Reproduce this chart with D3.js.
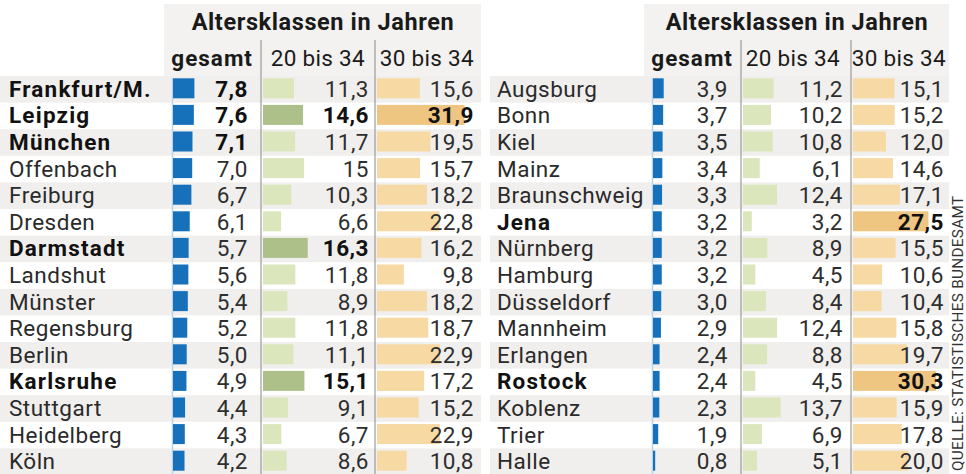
<!DOCTYPE html>
<html>
<head>
<meta charset="utf-8">
<script src="https://cdn.jsdelivr.net/npm/d3@7"></script>
<style>
  body { margin: 0; background: #fff; }
  svg text { font-family: Roboto, sans-serif; }
</style>
</head>
<body>
<div id="chart"></div>
<script>
// left table
const leftCities = ["Frankfurt/M.", "Leipzig", "München", "Offenbach", "Freiburg", "Dresden", "Darmstadt", "Landshut", "Münster", "Regensburg", "Berlin", "Karlsruhe", "Stuttgart", "Heidelberg", "Köln"];
const leftGesamt = [7.8, 7.6, 7.1, 7.0, 6.7, 6.1, 5.7, 5.6, 5.4, 5.2, 5.0, 4.9, 4.4, 4.3, 4.2];
const left2034 = [11.3, 14.6, 11.7, 15, 10.3, 6.6, 16.3, 11.8, 8.9, 11.8, 11.1, 15.1, 9.1, 6.7, 8.6];
const left3034 = [15.6, 31.9, 19.5, 15.7, 18.2, 22.8, 16.2, 9.8, 18.2, 18.7, 22.9, 17.2, 15.2, 22.9, 10.8];

// right table
const rightCities = ["Augsburg", "Bonn", "Kiel", "Mainz", "Braunschweig", "Jena", "Nürnberg", "Hamburg", "Düsseldorf", "Mannheim", "Erlangen", "Rostock", "Koblenz", "Trier", "Halle"];
const rightGesamt = [3.9, 3.7, 3.5, 3.4, 3.3, 3.2, 3.2, 3.2, 3.0, 2.9, 2.4, 2.4, 2.3, 1.9, 0.8];
const right2034 = [11.2, 10.2, 10.8, 6.1, 12.4, 3.2, 8.9, 4.5, 8.4, 12.4, 8.8, 4.5, 13.7, 6.9, 5.1];
const right3034 = [15.1, 15.2, 12.0, 14.6, 17.1, 27.5, 15.5, 10.6, 10.4, 15.8, 19.7, 30.3, 15.9, 17.8, 20.0];

// highlighted (bold) entries per column
const boldGesamt = ["Frankfurt/M.", "Leipzig", "München"];
const bold2034 = ["Leipzig", "Darmstadt", "Karlsruhe"];
const bold3034 = ["Leipzig", "Jena", "Rostock"];

// values printed without decimal in the original
const noDecimal = ["Offenbach|a"];

const headerTitle = "Altersklassen in Jahren";
const columnLabels = ["gesamt", "20 bis 34", "30 bis 34"];
const source = "QUELLE: STATISTISCHES BUNDESAMT";

const width = 966, height = 474;

const svg = d3.select("#chart").append("svg")
  .attr("width", width)
  .attr("height", height);

const x = d3.scaleLinear().domain([0, 35]).range([0, 96]);
const y = d3.scaleBand().domain(d3.range(15)).range([76, 475]).padding(0);

const fmt = (v, city, key) => noDecimal.includes(city + "|" + key)
  ? String(v) : v.toFixed(1).replace(".", ",");

function drawPanel(opt) {
  const g = svg.append("g");
  const rows = opt.cities.map((c, i) => ({
    city: c, g: opt.gesamt[i], a: opt.a[i], b: opt.b[i], i: i
  }));

  // header background
  g.append("rect")
    .attr("x", opt.colX[0] - 9).attr("y", 4)
    .attr("width", opt.panelRight - opt.colX[0] + 9).attr("height", 72)
    .attr("fill", "#f3f2f0");

  // row stripes
  g.selectAll(".stripe").data(rows.filter(d => d.i % 2 === 0)).enter()
    .append("rect")
    .attr("x", opt.panelLeft).attr("y", d => y(d.i))
    .attr("width", opt.panelRight - opt.panelLeft).attr("height", y.bandwidth())
    .attr("fill", "#f0efed");

  g.append("text")
    .attr("x", opt.titleX).attr("y", 30)
    .attr("text-anchor", "middle")
    .attr("font-size", 23.5).attr("font-weight", 700).attr("fill", "#1a1a1a")
    .attr("letter-spacing", 0.6)
    .text(headerTitle);

  // column headers
  columnLabels.forEach((lbl, k) => {
    g.append("text")
      .attr("x", opt.headX[k]).attr("y", 66)
      .attr("text-anchor", "end")
      .attr("font-size", 22.5)
      .attr("font-weight", k === 0 ? 700 : 400)
      .attr("letter-spacing", k === 0 ? 1 : 0.3)
      .attr("fill", "#1a1a1a")
      .text(lbl);
  });

  // divider lines
  opt.divX.forEach(dx => {
    g.append("line")
      .attr("x1", dx).attr("x2", dx)
      .attr("y1", 40).attr("y2", height)
      .attr("stroke", "#8a8a8a").attr("stroke-width", 1);
  });

  // thin baseline of blue column
  g.append("line")
    .attr("x1", opt.colX[0] - 0.5).attr("x2", opt.colX[0] - 0.5)
    .attr("y1", y(0) + 2).attr("y2", height)
    .attr("stroke", "#b9d5ee").attr("stroke-width", 1.5);

  const barH = 20;
  const barY = d => y(d.i) + (y.bandwidth() - barH) / 2 - 1;

  // gesamt bars
  g.selectAll(".bg").data(rows).enter().append("rect")
    .attr("x", opt.colX[0]).attr("y", barY)
    .attr("width", d => x(d.g)).attr("height", barH)
    .attr("fill", "#1770ba");

  g.selectAll(".ba").data(rows).enter().append("rect")
    .attr("x", opt.colX[1]).attr("y", barY)
    .attr("width", d => x(d.a)).attr("height", barH)
    .attr("fill", d => bold2034.includes(d.city) ? "#adc08a" : "#dbe6bd");

  g.selectAll(".bb").data(rows).enter().append("rect")
    .attr("x", opt.colX[2]).attr("y", barY)
    .attr("width", d => x(d.b)).attr("height", barH)
    .attr("fill", d => bold3034.includes(d.city) ? "#eec682" : "#f6d9a3");

  const textY = d => y(d.i) + y.bandwidth() / 2 + 7.5;
  const isBoldName = c => boldGesamt.includes(c) || bold2034.includes(c) || bold3034.includes(c);

  g.selectAll(".name").data(rows).enter().append("text")
    .attr("x", opt.nameX).attr("y", textY)
    .attr("font-size", 22.5)
    .attr("letter-spacing", d => isBoldName(d.city) ? 1.2 : 0.5)
    .attr("font-weight", d => isBoldName(d.city) ? 700 : 400)
    .attr("fill", d => isBoldName(d.city) ? "#111" : "#2a2a2a")
    .text(d => d.city);

  const cols = [["g", boldGesamt], ["a", bold2034], ["b", bold3034]];
  cols.forEach(([key, boldList], k) => {
    g.selectAll(".v" + key).data(rows).enter().append("text")
      .attr("x", opt.valX[k]).attr("y", textY)
      .attr("text-anchor", "end")
      .attr("font-size", 22.5)
      .attr("letter-spacing", 0.5)
      .attr("font-weight", d => boldList.includes(d.city) ? 700 : 400)
      .attr("fill", d => boldList.includes(d.city) ? "#111" : "#2e2e2e")
      .text(d => fmt(d[key], d.city, key));
  });
}

drawPanel({
  cities: leftCities, gesamt: leftGesamt, a: left2034, b: left3034,
  panelLeft: 0, panelRight: 481, nameX: 9, titleX: 323,
  colX: [173, 263, 377], valX: [248, 369, 474],
  headX: [253, 365, 474], divX: [261, 375]
});

drawPanel({
  cities: rightCities, gesamt: rightGesamt, a: right2034, b: right3034,
  panelLeft: 490, panelRight: 949, nameX: 497, titleX: 797,
  colX: [653, 743, 853], valX: [728, 843, 944],
  headX: [733, 840, 946], divX: [741, 851]
});

svg.append("text")
  .attr("transform", "translate(963,471) rotate(-90)")
  .attr("font-size", 15.3).attr("fill", "#333")
  .attr("letter-spacing", 0.3)
  .text(source);
</script>
</body>
</html>
